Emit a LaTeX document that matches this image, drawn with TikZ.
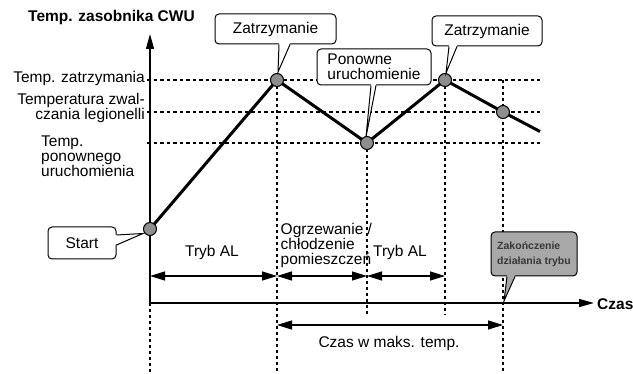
\documentclass[tikz,border=0pt]{standalone}
\usepackage{fontspec}
\setmainfont{Liberation Sans}
\usetikzlibrary{arrows.meta,calc}
\definecolor{dotgray}{HTML}{8E8E8E}
\definecolor{boxgray}{HTML}{A8A8A8}
\definecolor{boxtext}{HTML}{383838}
\newcommand\downptr[5]{% box, dx1, dx2, tip, fill
  \fill[#5] ($(#1.south)+(#2,-1.6)$) -- (#4) -- ($(#1.south)+(#3,-1.6)$) -- cycle;
  \draw[line width=1pt, line join=miter] ($(#1.south)+(#2,0)$) -- (#4) -- ($(#1.south)+(#3,0)$);
}
\begin{document}
\begin{tikzpicture}[x=1pt,y=-1pt,
  lbl/.style={font=\fontsize{15.5}{15}\selectfont, inner sep=0pt},
  boldlbl/.style={font=\fontsize{15.5}{15}\selectfont\bfseries, inner sep=0pt},
  curve/.style={line width=3pt, line join=round},
  guide/.style={line width=1.2pt, dash pattern=on 3.5pt off 3pt},
  vguide/.style={line width=1.4pt, dash pattern=on 3pt off 3pt},
  axis/.style={line width=1.3pt, -{Triangle[length=15pt,width=8pt]}},
  span/.style={line width=1.3pt, {Triangle[length=15pt,width=9pt]}-{Triangle[length=15pt,width=9pt]}},
  dot/.style={circle, draw=black, line width=1pt, fill=dotgray, minimum size=13pt, inner sep=0pt},
  bubble/.style={draw=black, line width=1pt, rounded corners=4pt, fill=white, inner sep=0pt,
    font=\fontsize{15.5}{15}\selectfont},
]
\useasboundingbox (0,0) rectangle (633,374);

% guide coordinates
\coordinate (hA0) at (147,80);  \coordinate (hA1) at (540,80);
\coordinate (hB0) at (147,112); \coordinate (hB1) at (540,112);
\coordinate (hC0) at (147,143); \coordinate (hC1) at (540,143);
\coordinate (O) at (150,303);
\coordinate (ytip) at (150,34);
\coordinate (xtip) at (594,303);
\coordinate (v0b) at (150,374);
\coordinate (v1t) at (277,80);  \coordinate (v1b) at (277,374);
\coordinate (v2t) at (367,143); \coordinate (v2b) at (367,315);
\coordinate (v3t) at (445,80);  \coordinate (v3b) at (445,315);
\coordinate (v4t) at (503,80);  \coordinate (v4b) at (503,374);

% horizontal dashed levels
\draw[guide] (hA0) -- (hA1);
\draw[guide] (hB0) -- (hB1);
\draw[guide] (hC0) -- (hC1);

% vertical dotted lines
\draw[vguide] (O) -- (v0b);
\draw[vguide] (v1t) -- (v1b);
\draw[vguide] (v2t) -- (v2b);
\draw[vguide] (v3t) -- (v3b);
\draw[vguide] (v4t) -- (v4b);

% axes
\draw[axis] (O) -- (ytip);
\draw[axis] (O) -- (xtip);

% spans
\coordinate (a0) at (150,276); \coordinate (a1) at (277,276);
\coordinate (a2) at (367,276); \coordinate (a3) at (445,276);
\coordinate (m1) at (277,325); \coordinate (m2) at (503,325);
\draw[span] (a0) -- (a1);
\draw[span] (a1) -- (a2);
\draw[span] (a2) -- (a3);
\draw[span] (m1) -- (m2);

% temperature curve
\coordinate (c0) at (150,229);
\coordinate (c1) at (277,80);
\coordinate (c2) at (367,143);
\coordinate (c3) at (445,80);
\coordinate (c4) at (503,112);
\coordinate (pend) at (540,131.5);
\draw[curve] (c0) -- (c1) -- (c2) -- (c3) -- (c4) -- (pend);
\node[dot] (p0) at (c0) {};
\node[dot] (p1) at (c1) {};
\node[dot] (p2) at (c2) {};
\node[dot] (p3) at (c3) {};
\node[dot] (p4) at (c4) {};

% labels
\node[boldlbl] (title) at (111.5,17) {Temp. zasobnika CWU};
\node[boldlbl, anchor=west] (czas) at (597,304) {Czas};
\node[lbl, anchor=east] (lstop) at (145,78) {Temp. zatrzymania};
\node[lbl, anchor=east, align=right] (lleg) at (145,107.5) {Temperatura zwal-\\czania legionelli};
\node[lbl, anchor=west, align=left] (lres) at (41,156) {Temp.\\ponownego\\uruchomienia};
\node[lbl] (tal1) at (212,252) {Tryb AL};
\node[lbl, anchor=west, align=left] (ogrz) at (280.5,245) {Ogrzewanie /\\chłodzenie\\pomieszczeń};
\node[lbl] (tal2) at (400,252) {Tryb AL};
\node[lbl] (cmax) at (389,343) {Czas w maks. temp.};

% callouts
\coordinate (t1) at (278,72);
\coordinate (t2) at (366,137);
\coordinate (t3) at (446,73);
\coordinate (t4) at (143,233.5);
\coordinate (t5) at (504,301);

\node[bubble, minimum width=121pt, minimum height=30pt] (z1) at (275.5,29) {Zatrzymanie};
\downptr{z1}{3.5}{14.5}{t1}{white}
\node[bubble, minimum width=114pt, minimum height=36pt, align=left] (pu) at (374,67) {Ponowne\\uruchomienie};
\downptr{pu}{-3}{2}{t2}{white}
\node[bubble, minimum width=110pt, minimum height=30pt] (z2) at (487,31) {Zatrzymanie};
\downptr{z2}{-38}{-30}{t3}{white}
\node[bubble, minimum width=68pt, minimum height=32pt] (st) at (82,243) {Start};
\fill[white] ($(st.east)+(-1.6,-8)$) -- (t4) -- ($(st.east)+(-1.6,2)$) -- cycle;
\draw[line width=1pt, line join=miter] ($(st.east)+(0,-8)$) -- (t4) -- ($(st.east)+(0,2)$);
\node[bubble, fill=boxgray, minimum width=86pt, minimum height=44pt, align=left,
  font=\fontsize{10.5}{15}\selectfont\bfseries, text=boxtext] (zk) at (534,254) {Zakończenie\\działania trybu};
\downptr{zk}{-27}{-19}{t5}{boxgray}
\end{tikzpicture}
\end{document}
